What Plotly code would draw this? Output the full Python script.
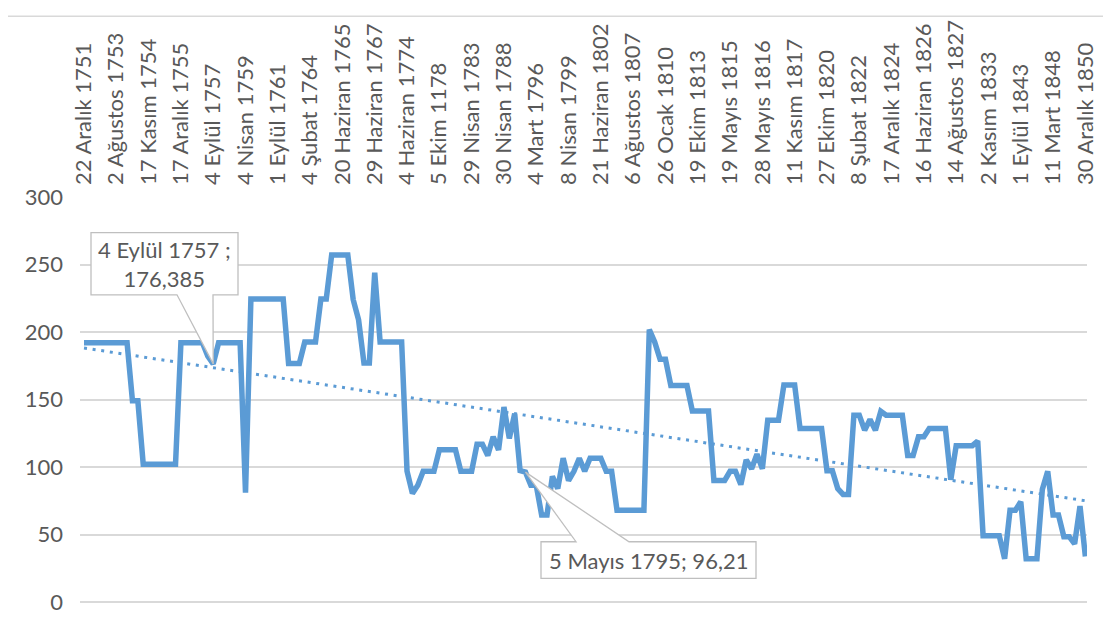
import numpy as np
import plotly.graph_objects as go

# tick labels on the category axis (one every 6 points)
labels = ['22 Aralık 1751', '2 Ağustos 1753', '17 Kasım 1754', '17 Aralık 1755', '4 Eylül 1757',
          '4 Nisan 1759', '1 Eylül 1761', '4 Şubat 1764', '20 Haziran 1765', '29 Haziran 1767',
          '4 Haziran 1774', '5 Ekim 1178', '29 Nisan 1783', '30 Nisan 1788', '4 Mart 1796',
          '8 Nisan 1799', '21 Haziran 1802', '6 Ağustos 1807', '26 Ocak 1810', '19 Ekim 1813',
          '19 Mayıs 1815', '28 Mayıs 1816', '11 Kasım 1817', '27 Ekim 1820', '8 Şubat 1822',
          '17 Aralık 1824', '16 Haziran 1826', '14 Ağustos 1827', '2 Kasım 1833', '1 Eylül 1843',
          '11 Mart 1848', '30 Aralık 1850']
label_step = 6

values = [192, 192, 192, 192, 192, 192, 192, 192, 192, 149,
          149, 102, 102, 102, 102, 102, 102, 102, 192, 192,
          192, 192, 192, 182, 176.385, 192, 192, 192, 192, 192,
          81, 224.5, 224.5, 224.5, 224.5, 224.5, 224.5, 224.5, 176.7, 176.7,
          176.7, 192.6, 192.6, 192.6, 224.5, 224.5, 257, 257, 257, 257,
          224, 209, 177, 177, 244, 192.6, 192.6, 192.6, 192.6, 192.6,
          97, 80.4, 86.5, 96.8, 96.8, 96.8, 112.7, 112.7, 112.7, 112.7,
          96.8, 96.8, 96.8, 116.8, 116.8, 108.5, 122.4, 112.7, 144.4, 121.2,
          139.5, 97.3, 96.21, 86.5, 86.5, 64.5, 64.5, 93, 84, 106.5,
          90, 96.8, 106.5, 96.8, 106.5, 106.5, 106.5, 96.8, 96.8, 68,
          68, 68, 68, 68, 68, 201.8, 192.6, 179.8, 179.8, 160.3,
          160.3, 160.3, 160.3, 141.5, 141.5, 141.5, 141.5, 90, 90, 90,
          96.8, 96.8, 87, 105.3, 98.7, 109.5, 98.7, 134.7, 134.7, 134.7,
          160.8, 160.8, 160.8, 128.5, 128.5, 128.5, 128.5, 128.5, 97.3, 97.3,
          84, 79.7, 79.7, 138.3, 138.3, 127.3, 135.1, 127.3, 141.3, 138.3,
          138.3, 138.3, 138.3, 108.5, 108.5, 122.4, 122.4, 128.5, 128.5, 128.5,
          128.5, 90.5, 115.8, 115.8, 115.8, 115.8, 119.3, 49.1, 49.1, 49.1,
          49.1, 32, 68, 68, 74.3, 32, 32, 32, 83.3, 96.8,
          64.5, 64.5, 48.4, 48.4, 43, 71.1, 33.7]

# labelled points
callout_idx = [24, 82]
callout_names = ['4 Eylül 1757', '5 Mayıs 1795']

x = np.arange(len(values))
slope, intercept = np.polyfit(x, values, 1)
trend = slope * x + intercept

# page has an 8px body margin, so the figure sits at (8, 8)
OFF = 8
W, H = 1111, 632
ML, MR, MT, MB = 72, 32, 184, 38
XR = [-0.743, 186.3]
YR = [0, 300]
BLUE = '#5B9BD5'
GREY = '#595959'
FONT = 'Lato'
FS = 22


def px2x(px):
    return XR[0] + (px - OFF - ML) / (W - ML - MR) * (XR[1] - XR[0])


def py2y(py):
    return YR[1] - (py - OFF - MT) / (H - MT - MB) * (YR[1] - YR[0])


def fmt(v):
    return ('%g' % v).replace('.', ',')


fig = go.Figure()
fig.add_trace(go.Scatter(x=x, y=values, mode='lines',
                         line=dict(color=BLUE, width=5.5), hoverinfo='skip'))
fig.add_trace(go.Scatter(x=x, y=trend, mode='lines',
                         line=dict(color=BLUE, width=3, dash='3px,5.7px'), hoverinfo='skip'))

# callout boxes (page pixels) with a wedge pointing at the data point
i1, i2 = callout_idx
tip1 = (i1, values[i1])
tip2 = (i2, values[i2])
b1 = dict(l=91, r=238, t=228, b=291, w0=177, w1=213)
path1 = 'M {} {} L {} {} L {} {} L {} {} L {} {} L {} {} L {} {} Z'.format(
    px2x(b1['l']), py2y(b1['t']), px2x(b1['r']), py2y(b1['t']),
    px2x(b1['r']), py2y(b1['b']), px2x(b1['w1']), py2y(b1['b']),
    tip1[0], tip1[1], px2x(b1['w0']), py2y(b1['b']),
    px2x(b1['l']), py2y(b1['b']))
b2 = dict(l=541, r=756, t=541, b=578, w0=576, w1=629)
path2 = 'M {} {} L {} {} L {} {} L {} {} L {} {} L {} {} L {} {} Z'.format(
    px2x(b2['l']), py2y(b2['t']), px2x(b2['w0']), py2y(b2['t']),
    tip2[0], tip2[1], px2x(b2['w1']), py2y(b2['t']),
    px2x(b2['r']), py2y(b2['t']), px2x(b2['r']), py2y(b2['b']),
    px2x(b2['l']), py2y(b2['b']))

shapes = [
    dict(type='path', path=path1, xref='x', yref='y', fillcolor='white',
         line=dict(color='#BFBFBF', width=1.3), layer='above'),
    dict(type='path', path=path2, xref='x', yref='y', fillcolor='white',
         line=dict(color='#BFBFBF', width=1.3), layer='above'),
    dict(type='line', xref='paper', yref='paper',
         x0=(5 - OFF - ML) / (W - ML - MR), x1=(1107 - OFF - ML) / (W - ML - MR),
         y0=(H - MB - 1) / (H - MT - MB), y1=(H - MB - 1) / (H - MT - MB),
         line=dict(color='#D9D9D9', width=1.3)),
]

annotations = [
    dict(x=px2x((b1['l'] + b1['r']) / 2), y=py2y((b1['t'] + b1['b']) / 2), xref='x', yref='y',
         text=callout_names[0] + ' ;<br>' + fmt(values[i1]), showarrow=False,
         font=dict(family=FONT, size=FS, color=GREY)),
    dict(x=px2x((b2['l'] + b2['r']) / 2), y=py2y((b2['t'] + b2['b']) / 2), xref='x', yref='y',
         text=callout_names[1] + '; ' + fmt(values[i2]), showarrow=False,
         font=dict(family=FONT, size=FS, color=GREY)),
]

fig.update_layout(
    width=W, height=H,
    margin=dict(l=ML, r=MR, t=MT, b=MB),
    paper_bgcolor='white', plot_bgcolor='white',
    showlegend=False, hovermode=False,
    font=dict(family=FONT, size=FS, color=GREY),
    shapes=shapes, annotations=annotations,
    xaxis=dict(range=XR, side='top', tickangle=-90,
               tickvals=[k * label_step for k in range(len(labels))], ticktext=labels,
               showgrid=False, zeroline=False, showline=False, ticks='',
               ticklabelstandoff=11, tickfont=dict(family=FONT, size=FS, color=GREY)),
    yaxis=dict(range=YR, dtick=50, showgrid=True, gridcolor='#D9D9D9', gridwidth=1.5,
               zeroline=True, zerolinecolor='#D9D9D9', zerolinewidth=1.5,
               showline=False, ticks='', ticklabelstandoff=16,
               tickfont=dict(family=FONT, size=FS, color=GREY)),
)

fig.write_html('out.html')
